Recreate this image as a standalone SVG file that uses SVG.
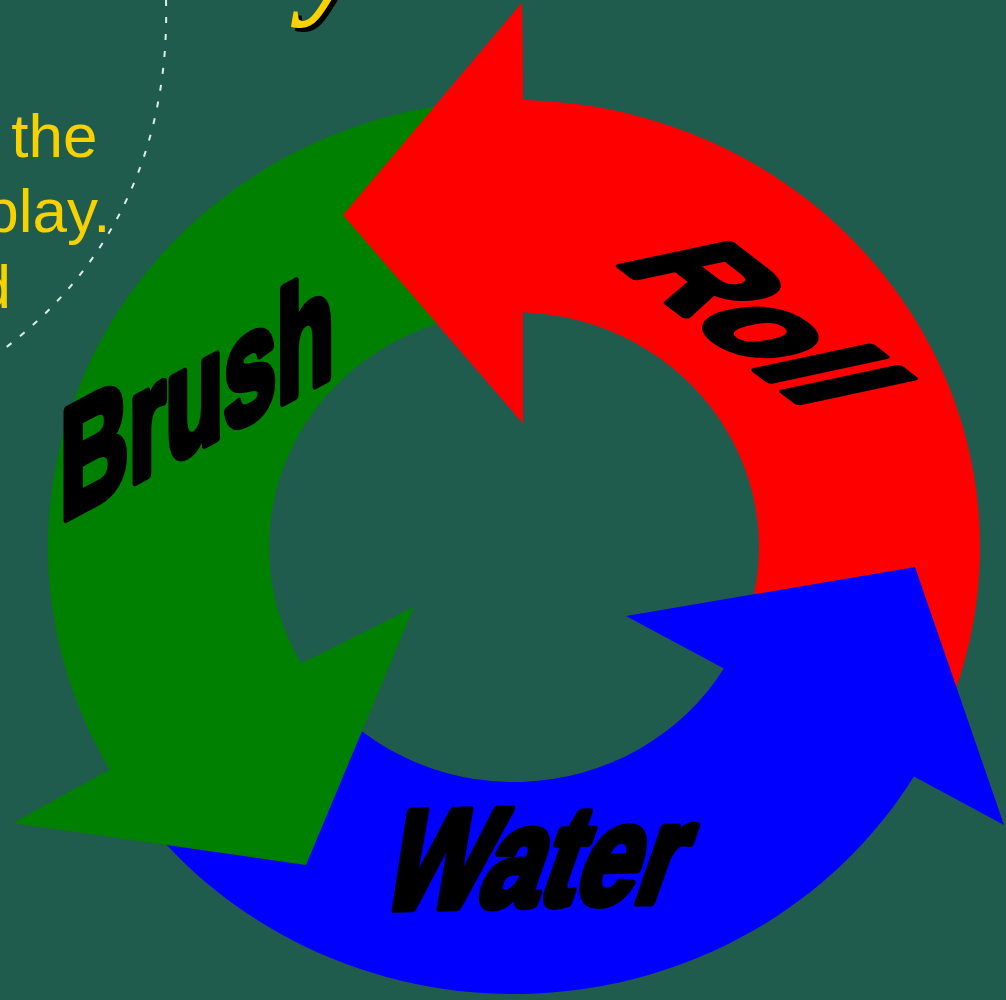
<svg xmlns="http://www.w3.org/2000/svg" xmlns:xlink="http://www.w3.org/1999/xlink" width="1006" height="1000" viewBox="0 0 1006 1000">
  <style>
    .bg { fill: #205C4D; }
    .note { fill: #F8D200; font-family: "Liberation Sans", Arial, sans-serif; font-size: 62px; }
    .label { fill: #000; stroke: #000; stroke-width: 6; stroke-linejoin: round; font-family: "Liberation Sans", Arial, sans-serif; font-weight: bold; font-size: 100px; }
    .title { font-family: "Liberation Serif", "Times New Roman", serif; font-style: italic; font-weight: bold; font-size: 130px; }
    .dash { fill: none; stroke: #DDEEE6; stroke-width: 2; stroke-dasharray: 6 11; }
  </style>
  <rect class="bg" x="0" y="0" width="1006" height="1000"/>

  <!-- background fragments -->
  <path class="dash" d="M166,0 C170,150 110,270 0,352"/>
  <text class="title" x="308" y="4" fill="#000">y</text>
  <text class="title" x="304" y="0" fill="#F8D200">y</text>
  <text class="note" x="97.5" y="157" text-anchor="end">the</text>
  <text class="note" x="110.6" y="232" text-anchor="end">play.</text>
  <text class="note" x="11" y="308" text-anchor="end">d</text>

  <g id="connectors">
    <g id="roll">
      <path fill="#FF0000" d="M946.1,714.4 A466,447 0 0,0 522,100.1 L522,3 L343,215 L523,423 L523,312.2 A245,235 0 0,1 741.2,635 Z"/>
      <polygon id="roll-head" fill="#FF0000" points="522,3 343,215 523,423 523,100"/>
      <text class="label" transform="matrix(1.013,0.778,-1.571,0.336,614.6,261.3)">Roll</text>
    </g>
    <g id="water">
      <path fill="#0000FF" d="M132.3,803.4 A466,447 0 0,0 913.9,776.5 L1004,825 L915,567 L626,616 L723.8,668.4 A245,235 0 0,1 313.3,681.8 Z"/>
      <text class="label" transform="matrix(1.08,-0.027,-0.494,1.411,376,909)">Water</text>
    </g>
    <g id="brush">
      <path fill="#008000" d="M473.4,101.7 A466,447 0 0,0 109.8,769.4 L13,823 L306,865 L414,607 L301.2,663.4 A245,235 0 0,1 492.6,312.9 Z"/>
      <text class="label" transform="matrix(0.949,-0.509,0,1.564,60.1,521.7)">Brush</text>
    </g>
    <use xlink:href="#roll-head"/>
  </g>
</svg>
